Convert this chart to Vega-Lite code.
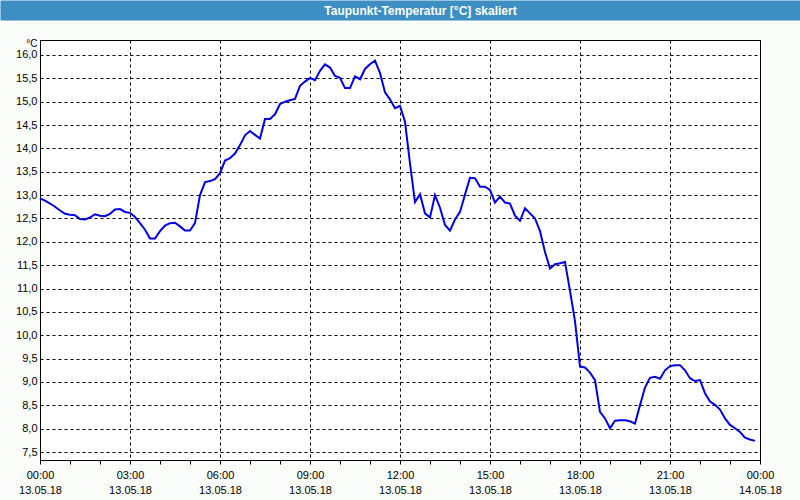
{
  "$schema": "https://vega.github.io/schema/vega-lite/v6.json",
  "width": 720,
  "height": 420,
  "autosize": "none",
  "padding": {"left": 40, "top": 40, "right": 40, "bottom": 40},
  "background": "#fbfdfb",
  "config": {
    "font": "Liberation Sans",
    "view": {"stroke": "#000000", "strokeWidth": 1, "fill": "#ffffff"},
    "axis": {"labelFont": "Liberation Sans", "titleFont": "Liberation Sans", "labelColor": "#000000", "titleColor": "#000000", "domainColor": "#000000", "tickColor": "#000000"}
  },
  "data": {"values": [
    {"t": "2018-05-13T00:00:00Z", "v": 12.93}, {"t": "2018-05-13T00:10:00Z", "v": 12.88}, {"t": "2018-05-13T00:20:00Z", "v": 12.82}, {"t": "2018-05-13T00:30:00Z", "v": 12.75}, {"t": "2018-05-13T00:40:00Z", "v": 12.67}, {"t": "2018-05-13T00:50:00Z", "v": 12.60},
    {"t": "2018-05-13T01:00:00Z", "v": 12.58}, {"t": "2018-05-13T01:10:00Z", "v": 12.57}, {"t": "2018-05-13T01:20:00Z", "v": 12.49}, {"t": "2018-05-13T01:30:00Z", "v": 12.48}, {"t": "2018-05-13T01:40:00Z", "v": 12.52}, {"t": "2018-05-13T01:50:00Z", "v": 12.59},
    {"t": "2018-05-13T02:00:00Z", "v": 12.56}, {"t": "2018-05-13T02:10:00Z", "v": 12.55}, {"t": "2018-05-13T02:20:00Z", "v": 12.60}, {"t": "2018-05-13T02:30:00Z", "v": 12.69}, {"t": "2018-05-13T02:40:00Z", "v": 12.70}, {"t": "2018-05-13T02:50:00Z", "v": 12.64},
    {"t": "2018-05-13T03:00:00Z", "v": 12.62}, {"t": "2018-05-13T03:10:00Z", "v": 12.53}, {"t": "2018-05-13T03:20:00Z", "v": 12.40}, {"t": "2018-05-13T03:30:00Z", "v": 12.26}, {"t": "2018-05-13T03:40:00Z", "v": 12.07}, {"t": "2018-05-13T03:50:00Z", "v": 12.07},
    {"t": "2018-05-13T04:00:00Z", "v": 12.23}, {"t": "2018-05-13T04:10:00Z", "v": 12.35}, {"t": "2018-05-13T04:20:00Z", "v": 12.40}, {"t": "2018-05-13T04:30:00Z", "v": 12.41}, {"t": "2018-05-13T04:40:00Z", "v": 12.33}, {"t": "2018-05-13T04:50:00Z", "v": 12.24},
    {"t": "2018-05-13T05:00:00Z", "v": 12.24}, {"t": "2018-05-13T05:10:00Z", "v": 12.40}, {"t": "2018-05-13T05:20:00Z", "v": 13.00}, {"t": "2018-05-13T05:30:00Z", "v": 13.28}, {"t": "2018-05-13T05:40:00Z", "v": 13.30}, {"t": "2018-05-13T05:50:00Z", "v": 13.34},
    {"t": "2018-05-13T06:00:00Z", "v": 13.47}, {"t": "2018-05-13T06:10:00Z", "v": 13.74}, {"t": "2018-05-13T06:20:00Z", "v": 13.79}, {"t": "2018-05-13T06:30:00Z", "v": 13.89}, {"t": "2018-05-13T06:40:00Z", "v": 14.07}, {"t": "2018-05-13T06:50:00Z", "v": 14.28},
    {"t": "2018-05-13T07:00:00Z", "v": 14.37}, {"t": "2018-05-13T07:10:00Z", "v": 14.29}, {"t": "2018-05-13T07:20:00Z", "v": 14.21}, {"t": "2018-05-13T07:30:00Z", "v": 14.63}, {"t": "2018-05-13T07:40:00Z", "v": 14.63}, {"t": "2018-05-13T07:50:00Z", "v": 14.73},
    {"t": "2018-05-13T08:00:00Z", "v": 14.95}, {"t": "2018-05-13T08:10:00Z", "v": 15.00}, {"t": "2018-05-13T08:20:00Z", "v": 15.03}, {"t": "2018-05-13T08:30:00Z", "v": 15.06}, {"t": "2018-05-13T08:40:00Z", "v": 15.34}, {"t": "2018-05-13T08:50:00Z", "v": 15.43},
    {"t": "2018-05-13T09:00:00Z", "v": 15.51}, {"t": "2018-05-13T09:10:00Z", "v": 15.46}, {"t": "2018-05-13T09:20:00Z", "v": 15.66}, {"t": "2018-05-13T09:30:00Z", "v": 15.80}, {"t": "2018-05-13T09:40:00Z", "v": 15.73}, {"t": "2018-05-13T09:50:00Z", "v": 15.55},
    {"t": "2018-05-13T10:00:00Z", "v": 15.51}, {"t": "2018-05-13T10:10:00Z", "v": 15.29}, {"t": "2018-05-13T10:20:00Z", "v": 15.29}, {"t": "2018-05-13T10:30:00Z", "v": 15.54}, {"t": "2018-05-13T10:40:00Z", "v": 15.48}, {"t": "2018-05-13T10:50:00Z", "v": 15.70},
    {"t": "2018-05-13T11:00:00Z", "v": 15.80}, {"t": "2018-05-13T11:10:00Z", "v": 15.88}, {"t": "2018-05-13T11:20:00Z", "v": 15.61}, {"t": "2018-05-13T11:30:00Z", "v": 15.20}, {"t": "2018-05-13T11:40:00Z", "v": 15.05}, {"t": "2018-05-13T11:50:00Z", "v": 14.86},
    {"t": "2018-05-13T12:00:00Z", "v": 14.91}, {"t": "2018-05-13T12:10:00Z", "v": 14.57}, {"t": "2018-05-13T12:20:00Z", "v": 13.68}, {"t": "2018-05-13T12:30:00Z", "v": 12.85}, {"t": "2018-05-13T12:40:00Z", "v": 13.02}, {"t": "2018-05-13T12:50:00Z", "v": 12.61},
    {"t": "2018-05-13T13:00:00Z", "v": 12.52}, {"t": "2018-05-13T13:10:00Z", "v": 13.00}, {"t": "2018-05-13T13:20:00Z", "v": 12.73}, {"t": "2018-05-13T13:30:00Z", "v": 12.36}, {"t": "2018-05-13T13:40:00Z", "v": 12.24}, {"t": "2018-05-13T13:50:00Z", "v": 12.48},
    {"t": "2018-05-13T14:00:00Z", "v": 12.64}, {"t": "2018-05-13T14:10:00Z", "v": 13.01}, {"t": "2018-05-13T14:20:00Z", "v": 13.37}, {"t": "2018-05-13T14:30:00Z", "v": 13.36}, {"t": "2018-05-13T14:40:00Z", "v": 13.18}, {"t": "2018-05-13T14:50:00Z", "v": 13.18},
    {"t": "2018-05-13T15:00:00Z", "v": 13.11}, {"t": "2018-05-13T15:10:00Z", "v": 12.84}, {"t": "2018-05-13T15:20:00Z", "v": 12.97}, {"t": "2018-05-13T15:30:00Z", "v": 12.84}, {"t": "2018-05-13T15:40:00Z", "v": 12.82}, {"t": "2018-05-13T15:50:00Z", "v": 12.56},
    {"t": "2018-05-13T16:00:00Z", "v": 12.45}, {"t": "2018-05-13T16:10:00Z", "v": 12.72}, {"t": "2018-05-13T16:20:00Z", "v": 12.61}, {"t": "2018-05-13T16:30:00Z", "v": 12.50}, {"t": "2018-05-13T16:40:00Z", "v": 12.23}, {"t": "2018-05-13T16:50:00Z", "v": 11.78},
    {"t": "2018-05-13T17:00:00Z", "v": 11.43}, {"t": "2018-05-13T17:10:00Z", "v": 11.52}, {"t": "2018-05-13T17:20:00Z", "v": 11.54}, {"t": "2018-05-13T17:30:00Z", "v": 11.57}, {"t": "2018-05-13T17:40:00Z", "v": 10.95}, {"t": "2018-05-13T17:50:00Z", "v": 10.30},
    {"t": "2018-05-13T18:00:00Z", "v": 9.33}, {"t": "2018-05-13T18:10:00Z", "v": 9.31}, {"t": "2018-05-13T18:20:00Z", "v": 9.20}, {"t": "2018-05-13T18:30:00Z", "v": 9.04}, {"t": "2018-05-13T18:40:00Z", "v": 8.36}, {"t": "2018-05-13T18:50:00Z", "v": 8.22},
    {"t": "2018-05-13T19:00:00Z", "v": 8.01}, {"t": "2018-05-13T19:10:00Z", "v": 8.17}, {"t": "2018-05-13T19:20:00Z", "v": 8.18}, {"t": "2018-05-13T19:30:00Z", "v": 8.18}, {"t": "2018-05-13T19:40:00Z", "v": 8.16}, {"t": "2018-05-13T19:50:00Z", "v": 8.11},
    {"t": "2018-05-13T20:00:00Z", "v": 8.50}, {"t": "2018-05-13T20:10:00Z", "v": 8.88}, {"t": "2018-05-13T20:20:00Z", "v": 9.09}, {"t": "2018-05-13T20:30:00Z", "v": 9.11}, {"t": "2018-05-13T20:40:00Z", "v": 9.07}, {"t": "2018-05-13T20:50:00Z", "v": 9.25},
    {"t": "2018-05-13T21:00:00Z", "v": 9.34}, {"t": "2018-05-13T21:10:00Z", "v": 9.36}, {"t": "2018-05-13T21:20:00Z", "v": 9.36}, {"t": "2018-05-13T21:30:00Z", "v": 9.25}, {"t": "2018-05-13T21:40:00Z", "v": 9.08}, {"t": "2018-05-13T21:50:00Z", "v": 9.02},
    {"t": "2018-05-13T22:00:00Z", "v": 9.04}, {"t": "2018-05-13T22:10:00Z", "v": 8.76}, {"t": "2018-05-13T22:20:00Z", "v": 8.58}, {"t": "2018-05-13T22:30:00Z", "v": 8.51}, {"t": "2018-05-13T22:40:00Z", "v": 8.41}, {"t": "2018-05-13T22:50:00Z", "v": 8.22},
    {"t": "2018-05-13T23:00:00Z", "v": 8.08}, {"t": "2018-05-13T23:10:00Z", "v": 8.01}, {"t": "2018-05-13T23:20:00Z", "v": 7.93}, {"t": "2018-05-13T23:30:00Z", "v": 7.81}, {"t": "2018-05-13T23:40:00Z", "v": 7.77}, {"t": "2018-05-13T23:50:00Z", "v": 7.74}
  ]},
  "layer": [
    {
      "mark": {"type": "line", "color": "#0000e6", "strokeWidth": 2},
      "encoding": {
        "x": {
          "field": "t", "type": "temporal",
          "scale": {"type": "utc", "nice": false, "domain": [{"year": 2018, "month": 5, "date": 13, "utc": true}, {"year": 2018, "month": 5, "date": 14, "utc": true}]},
          "axis": {
            "orient": "bottom",
            "title": null,
            "values": [
              {"year": 2018, "month": 5, "date": 13, "hours": 0, "utc": true}, {"year": 2018, "month": 5, "date": 13, "hours": 1, "utc": true}, {"year": 2018, "month": 5, "date": 13, "hours": 2, "utc": true},
              {"year": 2018, "month": 5, "date": 13, "hours": 3, "utc": true}, {"year": 2018, "month": 5, "date": 13, "hours": 4, "utc": true}, {"year": 2018, "month": 5, "date": 13, "hours": 5, "utc": true},
              {"year": 2018, "month": 5, "date": 13, "hours": 6, "utc": true}, {"year": 2018, "month": 5, "date": 13, "hours": 7, "utc": true}, {"year": 2018, "month": 5, "date": 13, "hours": 8, "utc": true},
              {"year": 2018, "month": 5, "date": 13, "hours": 9, "utc": true}, {"year": 2018, "month": 5, "date": 13, "hours": 10, "utc": true}, {"year": 2018, "month": 5, "date": 13, "hours": 11, "utc": true},
              {"year": 2018, "month": 5, "date": 13, "hours": 12, "utc": true}, {"year": 2018, "month": 5, "date": 13, "hours": 13, "utc": true}, {"year": 2018, "month": 5, "date": 13, "hours": 14, "utc": true},
              {"year": 2018, "month": 5, "date": 13, "hours": 15, "utc": true}, {"year": 2018, "month": 5, "date": 13, "hours": 16, "utc": true}, {"year": 2018, "month": 5, "date": 13, "hours": 17, "utc": true},
              {"year": 2018, "month": 5, "date": 13, "hours": 18, "utc": true}, {"year": 2018, "month": 5, "date": 13, "hours": 19, "utc": true}, {"year": 2018, "month": 5, "date": 13, "hours": 20, "utc": true},
              {"year": 2018, "month": 5, "date": 13, "hours": 21, "utc": true}, {"year": 2018, "month": 5, "date": 13, "hours": 22, "utc": true}, {"year": 2018, "month": 5, "date": 13, "hours": 23, "utc": true},
              {"year": 2018, "month": 5, "date": 14, "hours": 0, "utc": true}
            ],
            "labelExpr": "utchours(datum.value) % 3 == 0 ? [utcFormat(datum.value, '%H:%M'), utcFormat(datum.value, '%d.%m.%y')] : ''",
            "labelOverlap": false,
            "labelFlush": false,
            "labelFontSize": 11,
            "labelLineHeight": 15,
            "labelPadding": 5,
            "tickSize": 4,
            "grid": true,
            "gridColor": "#000000",
            "gridDash": [3, 3],
            "gridOpacity": {"condition": {"test": "utchours(datum.value) % 3 == 0", "value": 1}, "value": 0}
          }
        },
        "y": {
          "field": "v", "type": "quantitative",
          "scale": {"domain": [7.33, 16.32], "nice": false, "zero": false},
          "axis": {
            "values": [7.5, 8, 8.5, 9, 9.5, 10, 10.5, 11, 11.5, 12, 12.5, 13, 13.5, 14, 14.5, 15, 15.5, 16],
            "labelExpr": "replace(format(datum.value, '.1f'), '.', ',')",
            "labelFontSize": 11,
            "labelPadding": 3,
            "ticks": false,
            "grid": true,
            "gridColor": "#000000",
            "gridDash": [3, 3],
            "title": "°C",
            "titleAngle": 0,
            "titleAlign": "right",
            "titleBaseline": "middle",
            "titleFontWeight": "normal",
            "titleFontSize": 10,
            "titleX": -3,
            "titleY": 3
          }
        }
      }
    },
    {
      "mark": {"type": "point", "opacity": 0},
      "encoding": {
        "x": {
          "field": "t", "type": "temporal",
          "axis": {
            "orient": "top",
            "values": [{"year": 2018, "month": 5, "date": 13, "hours": 12, "utc": true}],
            "labels": false,
            "domain": false,
            "grid": false,
            "ticks": true,
            "tickSize": 20,
            "tickWidth": 800,
            "tickColor": "#3d8ec2",
            "offset": 20,
            "title": "Taupunkt-Temperatur [°C] skaliert",
            "titleColor": "#ffffff",
            "titleFont": "Liberation Sans",
            "titleFontSize": 12,
            "titleFontWeight": "bold",
            "titleAlign": "center",
            "titleBaseline": "alphabetic",
            "titleX": 380,
            "titleY": -5.5
          }
        }
      }
    }
  ],
  "resolve": {"axis": {"x": "independent"}}
}
